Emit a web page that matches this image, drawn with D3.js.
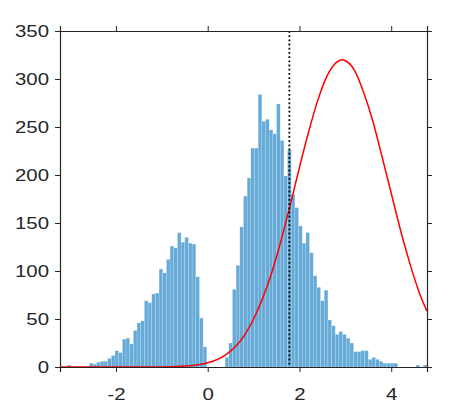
<!DOCTYPE html>
<html>
<head>
<meta charset="utf-8">
<script src="https://cdn.jsdelivr.net/npm/d3@7"></script>
<style>
  body { margin: 0; background: #fff; }
  svg text { font-family: "Liberation Sans", Arial, Helvetica, sans-serif; }
</style>
</head>
<body>
<div id="hist"></div>
<script>

  // histogram: 100 bins of width 0.08 starting at -3.22
  var binStart = -3.22;
  var binWidth = 0.08;
  var counts = [
    0, 0, 2, 0, 0, 0, 0, 0, 4, 3,
    5, 6, 6, 9, 12, 17, 15, 29, 30, 24,
    38, 46, 48, 69, 67, 76, 77, 102, 98, 112,
    126, 124, 140, 130, 135, 129, 128, 94, 51, 21,
    0, 0, 0, 0, 0, 10, 25, 81, 106, 146,
    178, 197, 228, 228, 284, 256, 258, 247, 243, 274,
    236, 199, 226, 180, 166, 147, 129, 140, 119, 95,
    83, 69, 80, 49, 43, 34, 37, 34, 30, 25,
    16, 16, 17, 17, 8, 10, 8, 6, 4, 4,
    4, 4, 0, 0, 0, 0, 0, 2, 0, 2
  ];

  // red fitted curve
  var fitX = [-3.22, -2.8, -2.4, -2.0, -1.6, -1.2, -0.8, -0.4, -0.2, 0, 0.2, 0.4, 0.6, 0.8,
              1.0, 1.2, 1.4, 1.6, 1.8, 2.0, 2.2, 2.4, 2.6, 2.8, 2.93, 3.0, 3.2, 3.4,
              3.6, 3.8, 4.0, 4.2, 4.4, 4.6, 4.78];
  var fitY = [0, 0, 0, 0, 0, 0.1, 0.3, 1.3, 2.4, 4.4, 7.7, 13, 21, 33,
              50, 72, 99, 132, 169, 208, 245, 278, 303, 317, 320, 319, 309, 286,
              256, 219, 181, 143, 109, 79, 58];

  var markerX = 1.78;

  var xTicks = [-2, 0, 2, 4];
  var yTicks = [0, 50, 100, 150, 200, 250, 300, 350];

  // set the dimensions and margins of the graph
  var margin = {top: 31, right: 46, bottom: 46, left: 60},
      width = 473 - margin.left - margin.right,
      height = 413 - margin.top - margin.bottom;

  var svg = d3.select("#hist")
    .append("svg")
      .attr("width", 473)
      .attr("height", 413)
    .append("g")
      .attr("transform", "translate(" + margin.left + "," + margin.top + ")");

  var x = d3.scaleLinear()
    .domain([binStart, binStart + counts.length * binWidth])
    .range([0, width]);

  var y = d3.scaleLinear()
    .domain([0, 350])
    .range([height, 0]);

  var bins = counts.map(function(c, i) {
    return {x0: binStart + i * binWidth, x1: binStart + (i + 1) * binWidth, n: c};
  }).filter(function(d) { return d.n > 0; });

  // bars
  svg.append("g").selectAll("rect")
    .data(bins)
    .enter()
    .append("rect")
      .attr("x", function(d) { return x(d.x0); })
      .attr("width", function(d) { return x(d.x1) - x(d.x0); })
      .attr("y", function(d) { return y(d.n); })
      .attr("height", function(d) { return y(0) - y(d.n); })
      .style("fill", "#66aad7")
      .style("stroke", "#ffffff")
      .style("stroke-opacity", 0.35)
      .style("stroke-width", 0.5);

  // red curve
  var line = d3.line()
    .x(function(d, i) { return x(fitX[i]); })
    .y(function(d) { return y(d); })
    .curve(d3.curveMonotoneX);

  svg.append("path")
    .datum(fitY)
    .attr("d", line)
    .style("fill", "none")
    .style("stroke", "#ff0000")
    .style("stroke-width", 1.5);

  // dotted marker
  svg.append("line")
    .attr("x1", x(markerX)).attr("x2", x(markerX))
    .attr("y1", 0).attr("y2", height)
    .style("stroke", "#000")
    .style("stroke-width", 1.8)
    .style("stroke-dasharray", "1.8,2.4");

  // axes, box with outward ticks
  var axisColor = "#262626";
  var plain = function(d) { return String(d); };   // ascii hyphen like the original

  var gx = svg.append("g")
    .attr("transform", "translate(0," + height + ")")
    .call(d3.axisBottom(x).tickValues(xTicks).tickSize(5).tickPadding(16).tickFormat(plain));
  var gy = svg.append("g")
    .call(d3.axisLeft(y).tickValues(yTicks).tickSize(5).tickFormat(plain));
  var gt = svg.append("g")
    .call(d3.axisTop(x).tickValues(xTicks).tickSize(5).tickFormat(""));
  var gr = svg.append("g")
    .attr("transform", "translate(" + width + ",0)")
    .call(d3.axisRight(y).tickValues(yTicks).tickSize(5).tickFormat(""));

  [gx, gy, gt, gr].forEach(function(g) {
    g.selectAll(".domain").attr("stroke", axisColor).attr("stroke-width", 1.2);
    g.selectAll(".tick line").attr("stroke", axisColor).attr("stroke-width", 1);
    g.selectAll(".tick text")
      .attr("fill", axisColor)
      .style("font-size", "17px")
      .style("font-family", "'Liberation Sans', Arial, sans-serif");
  });

  // the original labels are a little wider than tall
  gx.selectAll(".tick text").attr("transform", "scale(1.2,1)");
  gy.selectAll(".tick text").attr("x", 0).attr("transform", "translate(-11,0) scale(1.2,1)");

</script>
</body>
</html>
